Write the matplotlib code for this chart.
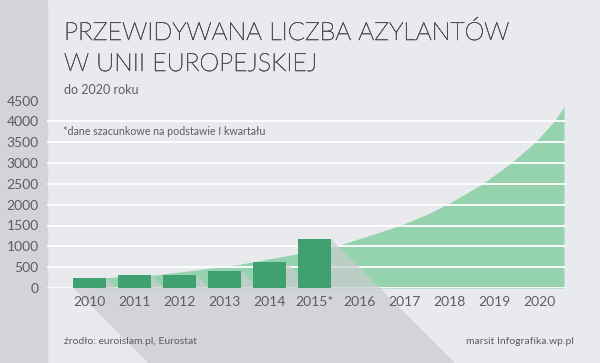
import numpy as np
import matplotlib
matplotlib.use("Agg")
import matplotlib.pyplot as plt
import matplotlib.patheffects as pe
from matplotlib.patches import Rectangle, Polygon

plt.rcParams['font.family'] = ['Lato', 'DejaVu Sans']

# bars: asylum seekers (thousands), 2015 estimated
bar_years = [2010, 2011, 2012, 2013, 2014, 2015]
bar_vals = [250, 310, 312, 416, 615, 1170]

# forecast curve
curve_years = [2010.0, 2010.5, 2011.45, 2012.34, 2013.34, 2014.49, 2015.49, 2016.16,
               2016.9, 2017.49, 2017.98, 2018.73, 2019.36, 2019.9, 2020.32, 2020.54]
curve_vals = [225, 257, 312, 430, 569, 800, 1015, 1240,
              1505, 1765, 2030, 2500, 3000, 3500, 4000, 4350]

x_years = list(range(2010, 2021))
x_labels = ["2010", "2011", "2012", "2013", "2014", "2015*",
            "2016", "2017", "2018", "2019", "2020"]
y_ticks = list(range(0, 5000, 500))

bg = "#e9eaee"
band = "#d2d4d8"
dark_green = "#40a070"
light_green = "#95d3ae"
txt = "#5c5d60"

fig = plt.figure(figsize=(6, 3.63), dpi=100, facecolor=bg)
fig.patches.append(Rectangle((0, 0), 47 / 600, 1, transform=fig.transFigure,
                             color=band, zorder=-5))

ax = fig.add_axes([47 / 600, 1 - 288 / 363, 518 / 600, 187.5 / 363])
ax.patch.set_visible(False)
for s in ax.spines.values():
    s.set_visible(False)
ax.set_xlim(2009.051, 2020.562)
ax.set_ylim(0, 4500)

# forecast area
ax.fill_between(curve_years, 0, curve_vals, color=light_green, lw=0, zorder=1)

# white grid lines
for v in y_ticks:
    ax.axhline(v, color="white", lw=1.3, zorder=2)

# long shadow of the bars (45 degrees in pixels)
w = 0.727
k = 1080.0  # data units of y per year of x for a 45 degree line
sh_col = "#cbccd1"
for yr, h in zip(bar_years, bar_vals):
    x1 = yr + w / 2
    ax.add_patch(Polygon([(x1, h), (x1 + h / k, 0), (x1, 0)], closed=True,
                         color=sh_col, alpha=0.7, lw=0, zorder=3))
depth = 2200
x0 = bar_years[0] - w / 2
xr = bar_years[-1] + w / 2 + bar_vals[-1] / k
ax.add_patch(Polygon([(x0, 0), (xr, 0), (xr + depth / k, -depth), (x0 + depth / k, -depth)],
                     closed=True, color=sh_col, alpha=0.7, lw=0, zorder=3, clip_on=False))

ax.bar(bar_years, bar_vals, width=w, color=dark_green, zorder=4)

ax.set_xticks(x_years)
ax.set_xticklabels(x_labels)
ax.set_yticks(y_ticks)
ax.tick_params(axis="both", length=0, labelsize=10, colors=txt)
ax.tick_params(axis="x", pad=6)
ax.tick_params(axis="y", pad=6)
ax.xaxis.set_zorder(5)
ax.yaxis.set_zorder(5)

title_col = "#505154"
thicker = [pe.withStroke(linewidth=0.45, foreground=title_col)]
fig.text(64 / 600, 1 - 40 / 363, "PRZEWIDYWANA LICZBA AZYLANTÓW", fontsize=18,
         fontweight="light", color=title_col, va="baseline", path_effects=thicker)
fig.text(64 / 600, 1 - 71 / 363, "W UNII EUROPEJSKIEJ", fontsize=18,
         fontweight="light", color=title_col, va="baseline", path_effects=thicker)
fig.text(64 / 600, 1 - 94.5 / 363, "do 2020 roku", fontsize=9, color=txt, va="baseline")
fig.text(63 / 600, 1 - 135 / 363, "*dane szacunkowe na podstawie I kwartału", fontsize=7.7,
         color=txt, va="baseline")
fig.text(64 / 600, 1 - 344 / 363, "źrodło: euroislam.pl, Eurostat", fontsize=7.5,
         color=txt, va="baseline")
fig.text(574 / 600, 1 - 344 / 363, "marsit Infografika.wp.pl", fontsize=7.5,
         color=txt, va="baseline", ha="right")

fig.savefig("out.png", dpi=100, facecolor=bg)
